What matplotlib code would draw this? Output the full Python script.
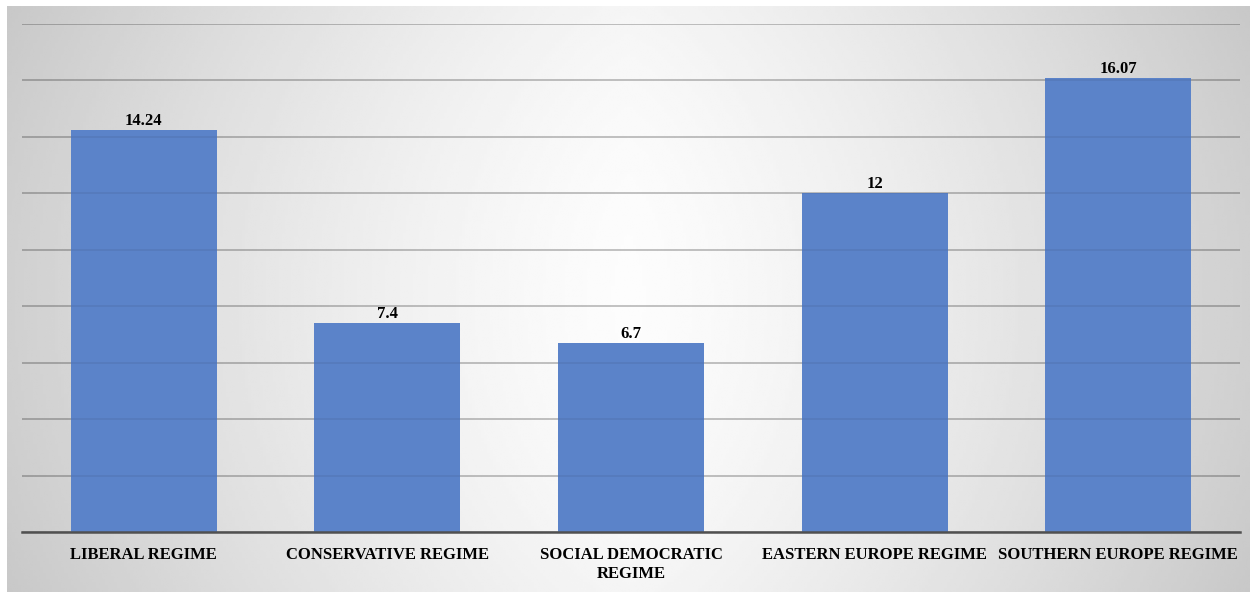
import matplotlib.pyplot as plt
import numpy as np

# regime categories and their values
regimes = ["LIBERAL REGIME", "CONSERVATIVE REGIME", "SOCIAL DEMOCRATIC\nREGIME",
           "EASTERN EUROPE REGIME", "SOUTHERN EUROPE REGIME"]
values = [14.24, 7.4, 6.7, 12, 16.07]
value_labels = ["14.24", "7.4", "6.7", "12", "16.07"]

plt.rcParams['font.family'] = ['Liberation Serif', 'DejaVu Serif']

fig = plt.figure(figsize=(12.5, 5.92), dpi=100)
fig.patch.set_facecolor("white")

# grey gradient behind the chart, light in the middle and darker at the sides
bg = fig.add_axes([7 / 1250, 0, 1 - 7 / 1250, 1 - 6 / 592])
gx, gy = np.meshgrid(np.linspace(-1, 1, 400), np.linspace(-1, 1, 200))
shade = 0.99 - 0.175 * np.abs(gx) ** 1.3 - 0.03 * gy ** 2
bg.imshow(shade, cmap="gray", vmin=0, vmax=1, aspect="auto", interpolation="bilinear")
bg.axis("off")

ax = fig.add_axes([22 / 1250, 60 / 592, 1218 / 1250, 508 / 592])
ax.set_facecolor("none")

x = np.arange(len(regimes))
bars = ax.bar(x, values, width=0.6, color="#5B83C9", zorder=2)

for b, lab in zip(bars, value_labels):
    ax.annotate(lab, (b.get_x() + b.get_width() / 2, b.get_height()),
                xytext=(0, 1), textcoords="offset points",
                ha="center", va="bottom", fontsize=12, fontweight="bold")

ax.set_xlim(-0.5, len(regimes) - 0.5)
ax.set_ylim(0, 18)
ax.set_yticks(np.arange(0, 19, 2))
ax.set_axisbelow(True)
ax.yaxis.grid(True, color="black", alpha=0.2, linewidth=1.3)
# faint trace of the grid across the bars
for yv in np.arange(2, 19, 2):
    ax.axhline(yv, color="black", alpha=0.06, linewidth=1.3, zorder=3)
ax.tick_params(axis="y", left=False, labelleft=False)
ax.tick_params(axis="x", length=0, pad=11)
ax.set_xticks(x)
ax.set_xticklabels(regimes, fontsize=12, fontweight="bold", linespacing=1.25)

for s in ["top", "right", "left"]:
    ax.spines[s].set_visible(False)
ax.spines["bottom"].set_color("#505050")
ax.spines["bottom"].set_linewidth(1.8)
ax.spines["bottom"].set_zorder(4)

fig.savefig("out.png", dpi=100)
